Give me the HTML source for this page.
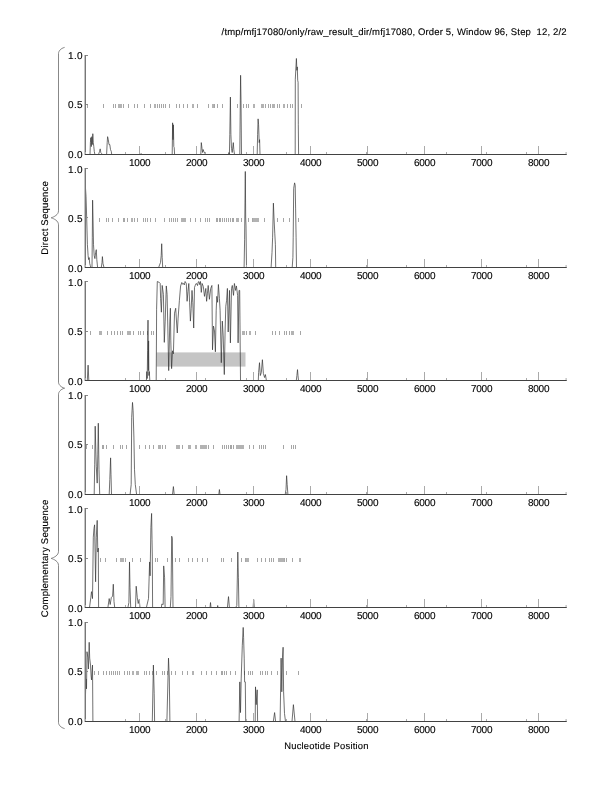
<!DOCTYPE html>
<html><head><meta charset="utf-8"><title>plot</title>
<style>html,body{margin:0;padding:0;background:#fff;}text{stroke:#000;stroke-width:0.12px;text-rendering:geometricPrecision;}body{width:612px;height:792px;overflow:hidden;}svg{display:block;}</style>
</head><body>
<svg width="612" height="792" viewBox="0 0 612 792" font-family="'Liberation Sans', Arial, sans-serif" fill="#000"><rect x="87" y="104" width="1" height="4" fill="#a6a6a6"/>
<rect x="103" y="104" width="1" height="4" fill="#a6a6a6"/>
<rect x="113" y="104" width="1" height="4" fill="#a6a6a6"/>
<rect x="115" y="104" width="1" height="4" fill="#a6a6a6"/>
<rect x="118" y="104" width="4" height="4" fill="#b3b3b3"/>
<rect x="123" y="104" width="1" height="4" fill="#a6a6a6"/>
<rect x="128" y="104" width="1" height="4" fill="#a6a6a6"/>
<rect x="134" y="104" width="1" height="4" fill="#a6a6a6"/>
<rect x="137" y="104" width="1" height="4" fill="#a6a6a6"/>
<rect x="144" y="104" width="1" height="4" fill="#a6a6a6"/>
<rect x="150" y="104" width="1" height="4" fill="#a6a6a6"/>
<rect x="154" y="104" width="2" height="4" fill="#b3b3b3"/>
<rect x="157" y="104" width="1" height="4" fill="#a6a6a6"/>
<rect x="159" y="104" width="1" height="4" fill="#a6a6a6"/>
<rect x="161" y="104" width="1" height="4" fill="#a6a6a6"/>
<rect x="163" y="104" width="1" height="4" fill="#a6a6a6"/>
<rect x="165" y="104" width="1" height="4" fill="#a6a6a6"/>
<rect x="169" y="104" width="1" height="4" fill="#a6a6a6"/>
<rect x="176" y="104" width="1" height="4" fill="#a6a6a6"/>
<rect x="179" y="104" width="1" height="4" fill="#a6a6a6"/>
<rect x="183" y="104" width="1" height="4" fill="#a6a6a6"/>
<rect x="187" y="104" width="1" height="4" fill="#a6a6a6"/>
<rect x="192" y="104" width="2" height="4" fill="#b3b3b3"/>
<rect x="197" y="104" width="1" height="4" fill="#a6a6a6"/>
<rect x="208" y="104" width="1" height="4" fill="#a6a6a6"/>
<rect x="212" y="104" width="2" height="4" fill="#b3b3b3"/>
<rect x="214" y="104" width="1" height="4" fill="#a6a6a6"/>
<rect x="217" y="104" width="1" height="4" fill="#a6a6a6"/>
<rect x="222" y="104" width="1" height="4" fill="#a6a6a6"/>
<rect x="237" y="104" width="1" height="4" fill="#a6a6a6"/>
<rect x="243" y="104" width="1" height="4" fill="#a6a6a6"/>
<rect x="246" y="104" width="1" height="4" fill="#a6a6a6"/>
<rect x="248" y="104" width="1" height="4" fill="#a6a6a6"/>
<rect x="253" y="104" width="2" height="4" fill="#b3b3b3"/>
<rect x="261" y="104" width="3" height="4" fill="#b3b3b3"/>
<rect x="265" y="104" width="1" height="4" fill="#a6a6a6"/>
<rect x="268" y="104" width="1" height="4" fill="#a6a6a6"/>
<rect x="270" y="104" width="1" height="4" fill="#a6a6a6"/>
<rect x="272" y="104" width="3" height="4" fill="#b3b3b3"/>
<rect x="277" y="104" width="1" height="4" fill="#a6a6a6"/>
<rect x="279" y="104" width="1" height="4" fill="#a6a6a6"/>
<rect x="283" y="104" width="2" height="4" fill="#b3b3b3"/>
<rect x="287" y="104" width="1" height="4" fill="#a6a6a6"/>
<rect x="290" y="104" width="1" height="4" fill="#a6a6a6"/>
<rect x="292" y="104" width="1" height="4" fill="#a6a6a6"/>
<rect x="301" y="104" width="1" height="4" fill="#a6a6a6"/>
<polyline points="85.00,154.50 90.00,154.50 90.40,142.62 90.80,137.67 91.30,146.58 91.80,136.68 92.30,144.60 92.80,133.71 93.30,142.62 93.80,146.58 94.30,151.53 94.90,154.50 98.50,154.50 99.50,151.53 100.20,148.86 100.80,152.52 101.60,153.51 102.20,154.50 106.60,154.50 107.20,142.62 107.60,136.68 108.30,139.65 109.00,144.60 109.80,144.60 110.50,149.55 111.30,151.53 111.70,154.50 140.80,154.50 141.10,153.51 141.50,154.50 172.20,154.50 172.60,122.82 173.00,139.65 173.40,124.80 173.80,146.58 174.20,147.57 174.60,154.50 200.80,154.50 201.30,142.62 202.00,148.56 202.60,152.52 203.20,149.55 203.80,151.53 205.70,154.50 228.50,154.50 228.90,152.52 229.40,154.50 229.80,134.70 230.40,97.08 230.90,134.70 231.50,148.56 232.20,152.52 233.30,142.62 233.80,149.55 234.50,154.50 239.80,154.50 240.30,100.05 240.60,75.30 241.00,100.05 241.50,154.50 257.20,154.50 257.60,134.70 258.10,118.86 258.60,124.80 259.20,142.62 259.60,139.65 260.00,154.50 295.20,154.50 295.30,79.26 296.40,58.47 296.90,70.35 297.30,66.89 297.70,80.25 298.10,82.23 298.30,124.80 298.60,154.50 566.60,154.50" fill="none" stroke="#333333" stroke-width="0.7" stroke-linejoin="round"/>
<line x1="84.50" y1="55.00" x2="84.50" y2="155.00" stroke="#c4c4c4" stroke-width="1.0"/>
<line x1="85.50" y1="55.00" x2="85.50" y2="155.00" stroke="#777777" stroke-width="1.0"/>
<line x1="85.00" y1="154.50" x2="566.60" y2="154.50" stroke="#424242" stroke-width="1.0"/>
<line x1="86.00" y1="55.50" x2="88.00" y2="55.50" stroke="#8a8a8a" stroke-width="1.0"/>
<line x1="86.00" y1="104.50" x2="88.00" y2="104.50" stroke="#8a8a8a" stroke-width="1.0"/>
<line x1="139.50" y1="154.00" x2="139.50" y2="146.00" stroke="#aaaaaa" stroke-width="1.0"/>
<line x1="196.50" y1="154.00" x2="196.50" y2="146.00" stroke="#aaaaaa" stroke-width="1.0"/>
<line x1="253.50" y1="154.00" x2="253.50" y2="146.00" stroke="#aaaaaa" stroke-width="1.0"/>
<line x1="310.50" y1="154.00" x2="310.50" y2="146.00" stroke="#aaaaaa" stroke-width="1.0"/>
<line x1="367.50" y1="154.00" x2="367.50" y2="146.00" stroke="#aaaaaa" stroke-width="1.0"/>
<line x1="424.50" y1="154.00" x2="424.50" y2="146.00" stroke="#aaaaaa" stroke-width="1.0"/>
<line x1="481.50" y1="154.00" x2="481.50" y2="146.00" stroke="#aaaaaa" stroke-width="1.0"/>
<line x1="538.50" y1="154.00" x2="538.50" y2="146.00" stroke="#aaaaaa" stroke-width="1.0"/>
<line x1="85.50" y1="154.00" x2="85.50" y2="152.00" stroke="#aaaaaa" stroke-width="1.0"/>
<line x1="125.50" y1="154.00" x2="125.50" y2="152.00" stroke="#aaaaaa" stroke-width="1.0"/>
<line x1="165.50" y1="154.00" x2="165.50" y2="152.00" stroke="#aaaaaa" stroke-width="1.0"/>
<line x1="205.50" y1="154.00" x2="205.50" y2="152.00" stroke="#aaaaaa" stroke-width="1.0"/>
<line x1="246.50" y1="154.00" x2="246.50" y2="152.00" stroke="#aaaaaa" stroke-width="1.0"/>
<line x1="286.50" y1="154.00" x2="286.50" y2="152.00" stroke="#aaaaaa" stroke-width="1.0"/>
<line x1="326.50" y1="154.00" x2="326.50" y2="152.00" stroke="#aaaaaa" stroke-width="1.0"/>
<line x1="366.50" y1="154.00" x2="366.50" y2="152.00" stroke="#aaaaaa" stroke-width="1.0"/>
<line x1="406.50" y1="154.00" x2="406.50" y2="152.00" stroke="#aaaaaa" stroke-width="1.0"/>
<line x1="446.50" y1="154.00" x2="446.50" y2="152.00" stroke="#aaaaaa" stroke-width="1.0"/>
<line x1="486.50" y1="154.00" x2="486.50" y2="152.00" stroke="#aaaaaa" stroke-width="1.0"/>
<line x1="526.50" y1="154.00" x2="526.50" y2="152.00" stroke="#aaaaaa" stroke-width="1.0"/>
<line x1="566.10" y1="154.00" x2="566.10" y2="152.00" stroke="#aaaaaa" stroke-width="1.0"/>
<text x="82.90" y="58.90" font-size="10" text-anchor="end" letter-spacing="0.3">1.0</text>
<text x="82.90" y="108.40" font-size="10" text-anchor="end" letter-spacing="0.3">0.5</text>
<text x="82.90" y="157.90" font-size="10" text-anchor="end" letter-spacing="0.3">0.0</text>
<text x="139.70" y="165.80" font-size="10" text-anchor="middle" letter-spacing="-0.25">1000</text>
<text x="196.69" y="165.80" font-size="10" text-anchor="middle" letter-spacing="-0.25">2000</text>
<text x="253.67" y="165.80" font-size="10" text-anchor="middle" letter-spacing="-0.25">3000</text>
<text x="310.66" y="165.80" font-size="10" text-anchor="middle" letter-spacing="-0.25">4000</text>
<text x="367.64" y="165.80" font-size="10" text-anchor="middle" letter-spacing="-0.25">5000</text>
<text x="424.63" y="165.80" font-size="10" text-anchor="middle" letter-spacing="-0.25">6000</text>
<text x="481.61" y="165.80" font-size="10" text-anchor="middle" letter-spacing="-0.25">7000</text>
<text x="538.60" y="165.80" font-size="10" text-anchor="middle" letter-spacing="-0.25">8000</text>
<rect x="99" y="218" width="1" height="4" fill="#a6a6a6"/>
<rect x="106" y="218" width="1" height="4" fill="#a6a6a6"/>
<rect x="108" y="218" width="1" height="4" fill="#a6a6a6"/>
<rect x="112" y="218" width="1" height="4" fill="#a6a6a6"/>
<rect x="118" y="218" width="1" height="4" fill="#a6a6a6"/>
<rect x="123" y="218" width="1" height="4" fill="#a6a6a6"/>
<rect x="124" y="218" width="1" height="4" fill="#a6a6a6"/>
<rect x="127" y="218" width="1" height="4" fill="#a6a6a6"/>
<rect x="131" y="218" width="2" height="4" fill="#b3b3b3"/>
<rect x="134" y="218" width="1" height="4" fill="#a6a6a6"/>
<rect x="137" y="218" width="1" height="4" fill="#a6a6a6"/>
<rect x="143" y="218" width="1" height="4" fill="#a6a6a6"/>
<rect x="145" y="218" width="1" height="4" fill="#a6a6a6"/>
<rect x="147" y="218" width="1" height="4" fill="#a6a6a6"/>
<rect x="150" y="218" width="1" height="4" fill="#a6a6a6"/>
<rect x="155" y="218" width="1" height="4" fill="#a6a6a6"/>
<rect x="164" y="218" width="1" height="4" fill="#a6a6a6"/>
<rect x="169" y="218" width="1" height="4" fill="#a6a6a6"/>
<rect x="171" y="218" width="1" height="4" fill="#a6a6a6"/>
<rect x="173" y="218" width="1" height="4" fill="#a6a6a6"/>
<rect x="175" y="218" width="1" height="4" fill="#a6a6a6"/>
<rect x="177" y="218" width="1" height="4" fill="#a6a6a6"/>
<rect x="181" y="218" width="5" height="4" fill="#b3b3b3"/>
<rect x="190" y="218" width="1" height="4" fill="#a6a6a6"/>
<rect x="195" y="218" width="1" height="4" fill="#a6a6a6"/>
<rect x="200" y="218" width="1" height="4" fill="#a6a6a6"/>
<rect x="205" y="218" width="1" height="4" fill="#a6a6a6"/>
<rect x="207" y="218" width="1" height="4" fill="#a6a6a6"/>
<rect x="209" y="218" width="1" height="4" fill="#a6a6a6"/>
<rect x="216" y="218" width="1" height="4" fill="#a6a6a6"/>
<rect x="217" y="218" width="1" height="4" fill="#a6a6a6"/>
<rect x="219" y="218" width="1" height="4" fill="#a6a6a6"/>
<rect x="220" y="218" width="1" height="4" fill="#a6a6a6"/>
<rect x="222" y="218" width="1" height="4" fill="#a6a6a6"/>
<rect x="224" y="218" width="1" height="4" fill="#a6a6a6"/>
<rect x="226" y="218" width="1" height="4" fill="#a6a6a6"/>
<rect x="228" y="218" width="1" height="4" fill="#a6a6a6"/>
<rect x="230" y="218" width="1" height="4" fill="#a6a6a6"/>
<rect x="232" y="218" width="1" height="4" fill="#a6a6a6"/>
<rect x="233" y="218" width="1" height="4" fill="#a6a6a6"/>
<rect x="236" y="218" width="3" height="4" fill="#b3b3b3"/>
<rect x="241" y="218" width="1" height="4" fill="#a6a6a6"/>
<rect x="248" y="218" width="1" height="4" fill="#a6a6a6"/>
<rect x="252" y="218" width="1" height="4" fill="#a6a6a6"/>
<rect x="253" y="218" width="6" height="4" fill="#b3b3b3"/>
<rect x="264" y="218" width="1" height="4" fill="#a6a6a6"/>
<rect x="277" y="218" width="1" height="4" fill="#a6a6a6"/>
<rect x="283" y="218" width="1" height="4" fill="#a6a6a6"/>
<rect x="289" y="218" width="1" height="4" fill="#a6a6a6"/>
<rect x="298" y="218" width="1" height="4" fill="#a6a6a6"/>
<polyline points="85.50,188.30 86.00,196.22 86.70,218.00 87.40,244.73 88.10,255.62 88.60,259.58 89.20,257.60 89.70,263.54 90.30,265.52 90.80,267.50 92.00,267.50 92.30,237.80 92.60,200.18 93.00,218.00 93.50,244.73 94.20,255.62 94.90,258.59 95.60,252.65 96.30,249.68 96.80,259.58 97.60,267.50 101.30,267.50 102.00,262.55 102.40,256.61 103.00,263.54 104.00,267.50 158.60,267.50 160.50,262.55 161.20,255.62 161.70,243.74 162.20,257.60 162.70,267.50 244.10,267.50 244.60,239.78 245.30,171.47 245.70,218.00 246.00,225.92 246.50,267.50 271.10,267.50 272.00,252.65 272.60,237.80 273.40,203.15 274.00,218.00 274.80,233.84 275.40,244.73 275.70,267.50 292.20,267.50 292.90,257.60 293.20,237.80 293.70,188.30 294.60,182.86 295.20,185.33 295.60,208.10 296.10,237.80 296.50,267.50 566.60,267.50" fill="none" stroke="#333333" stroke-width="0.7" stroke-linejoin="round"/>
<line x1="84.50" y1="168.00" x2="84.50" y2="268.00" stroke="#c4c4c4" stroke-width="1.0"/>
<line x1="85.50" y1="168.00" x2="85.50" y2="268.00" stroke="#777777" stroke-width="1.0"/>
<line x1="85.00" y1="267.50" x2="566.60" y2="267.50" stroke="#424242" stroke-width="1.0"/>
<line x1="86.00" y1="168.50" x2="88.00" y2="168.50" stroke="#8a8a8a" stroke-width="1.0"/>
<line x1="86.00" y1="217.50" x2="88.00" y2="217.50" stroke="#8a8a8a" stroke-width="1.0"/>
<line x1="139.50" y1="267.00" x2="139.50" y2="259.00" stroke="#aaaaaa" stroke-width="1.0"/>
<line x1="196.50" y1="267.00" x2="196.50" y2="259.00" stroke="#aaaaaa" stroke-width="1.0"/>
<line x1="253.50" y1="267.00" x2="253.50" y2="259.00" stroke="#aaaaaa" stroke-width="1.0"/>
<line x1="310.50" y1="267.00" x2="310.50" y2="259.00" stroke="#aaaaaa" stroke-width="1.0"/>
<line x1="367.50" y1="267.00" x2="367.50" y2="259.00" stroke="#aaaaaa" stroke-width="1.0"/>
<line x1="424.50" y1="267.00" x2="424.50" y2="259.00" stroke="#aaaaaa" stroke-width="1.0"/>
<line x1="481.50" y1="267.00" x2="481.50" y2="259.00" stroke="#aaaaaa" stroke-width="1.0"/>
<line x1="538.50" y1="267.00" x2="538.50" y2="259.00" stroke="#aaaaaa" stroke-width="1.0"/>
<line x1="85.50" y1="267.00" x2="85.50" y2="265.00" stroke="#aaaaaa" stroke-width="1.0"/>
<line x1="125.50" y1="267.00" x2="125.50" y2="265.00" stroke="#aaaaaa" stroke-width="1.0"/>
<line x1="165.50" y1="267.00" x2="165.50" y2="265.00" stroke="#aaaaaa" stroke-width="1.0"/>
<line x1="205.50" y1="267.00" x2="205.50" y2="265.00" stroke="#aaaaaa" stroke-width="1.0"/>
<line x1="246.50" y1="267.00" x2="246.50" y2="265.00" stroke="#aaaaaa" stroke-width="1.0"/>
<line x1="286.50" y1="267.00" x2="286.50" y2="265.00" stroke="#aaaaaa" stroke-width="1.0"/>
<line x1="326.50" y1="267.00" x2="326.50" y2="265.00" stroke="#aaaaaa" stroke-width="1.0"/>
<line x1="366.50" y1="267.00" x2="366.50" y2="265.00" stroke="#aaaaaa" stroke-width="1.0"/>
<line x1="406.50" y1="267.00" x2="406.50" y2="265.00" stroke="#aaaaaa" stroke-width="1.0"/>
<line x1="446.50" y1="267.00" x2="446.50" y2="265.00" stroke="#aaaaaa" stroke-width="1.0"/>
<line x1="486.50" y1="267.00" x2="486.50" y2="265.00" stroke="#aaaaaa" stroke-width="1.0"/>
<line x1="526.50" y1="267.00" x2="526.50" y2="265.00" stroke="#aaaaaa" stroke-width="1.0"/>
<line x1="566.10" y1="267.00" x2="566.10" y2="265.00" stroke="#aaaaaa" stroke-width="1.0"/>
<text x="82.90" y="172.80" font-size="10" text-anchor="end" letter-spacing="0.3">1.0</text>
<text x="82.90" y="222.30" font-size="10" text-anchor="end" letter-spacing="0.3">0.5</text>
<text x="82.90" y="271.80" font-size="10" text-anchor="end" letter-spacing="0.3">0.0</text>
<text x="139.70" y="278.80" font-size="10" text-anchor="middle" letter-spacing="-0.25">1000</text>
<text x="196.69" y="278.80" font-size="10" text-anchor="middle" letter-spacing="-0.25">2000</text>
<text x="253.67" y="278.80" font-size="10" text-anchor="middle" letter-spacing="-0.25">3000</text>
<text x="310.66" y="278.80" font-size="10" text-anchor="middle" letter-spacing="-0.25">4000</text>
<text x="367.64" y="278.80" font-size="10" text-anchor="middle" letter-spacing="-0.25">5000</text>
<text x="424.63" y="278.80" font-size="10" text-anchor="middle" letter-spacing="-0.25">6000</text>
<text x="481.61" y="278.80" font-size="10" text-anchor="middle" letter-spacing="-0.25">7000</text>
<text x="538.60" y="278.80" font-size="10" text-anchor="middle" letter-spacing="-0.25">8000</text>
<rect x="156.5" y="352.4" width="89" height="14.2" fill="#c5c5c5"/>
<rect x="90" y="331" width="1" height="4" fill="#a6a6a6"/>
<rect x="99" y="331" width="3" height="4" fill="#b3b3b3"/>
<rect x="107" y="331" width="1" height="4" fill="#a6a6a6"/>
<rect x="111" y="331" width="1" height="4" fill="#a6a6a6"/>
<rect x="114" y="331" width="1" height="4" fill="#a6a6a6"/>
<rect x="117" y="331" width="1" height="4" fill="#a6a6a6"/>
<rect x="120" y="331" width="1" height="4" fill="#a6a6a6"/>
<rect x="122" y="331" width="1" height="4" fill="#a6a6a6"/>
<rect x="127" y="331" width="4" height="4" fill="#b3b3b3"/>
<rect x="133" y="331" width="1" height="4" fill="#a6a6a6"/>
<rect x="138" y="331" width="1" height="4" fill="#a6a6a6"/>
<rect x="140" y="331" width="1" height="4" fill="#a6a6a6"/>
<rect x="143" y="331" width="1" height="4" fill="#a6a6a6"/>
<rect x="147" y="331" width="1" height="4" fill="#a6a6a6"/>
<rect x="151" y="331" width="1" height="4" fill="#a6a6a6"/>
<rect x="153" y="331" width="1" height="4" fill="#a6a6a6"/>
<rect x="242" y="331" width="3" height="4" fill="#b3b3b3"/>
<rect x="246" y="331" width="1" height="4" fill="#a6a6a6"/>
<rect x="249" y="331" width="2" height="4" fill="#b3b3b3"/>
<rect x="255" y="331" width="1" height="4" fill="#a6a6a6"/>
<rect x="272" y="331" width="1" height="4" fill="#a6a6a6"/>
<rect x="275" y="331" width="1" height="4" fill="#a6a6a6"/>
<rect x="279" y="331" width="1" height="4" fill="#a6a6a6"/>
<rect x="284" y="331" width="1" height="4" fill="#a6a6a6"/>
<rect x="286" y="331" width="1" height="4" fill="#a6a6a6"/>
<rect x="289" y="331" width="1" height="4" fill="#a6a6a6"/>
<rect x="291" y="331" width="3" height="4" fill="#b3b3b3"/>
<rect x="300" y="331" width="1" height="4" fill="#a6a6a6"/>
<polyline points="85.00,380.50 87.30,380.50 88.10,365.15 88.80,380.50 146.40,380.50 146.80,371.59 147.20,378.52 147.60,350.80 148.00,320.11 148.30,370.60 148.60,340.90 148.90,375.55 149.30,371.59 149.80,380.50 156.20,380.50 156.50,331.00 156.60,309.22 157.30,281.50 159.40,282.49 160.20,283.48 160.60,298.33 161.40,312.19 162.20,285.46 163.40,294.37 164.30,342.38 165.20,321.10 166.30,285.95 167.10,294.37 167.90,331.00 168.70,370.60 169.80,321.10 170.40,308.23 170.80,340.90 171.60,368.62 172.50,350.80 173.40,353.77 174.50,313.18 175.70,308.23 176.90,328.03 177.30,332.98 178.10,318.13 179.40,300.31 180.60,285.95 181.80,282.49 182.65,284.21 183.50,283.48 184.30,284.91 185.10,281.50 186.30,283.48 187.10,301.30 187.95,291.34 188.80,283.48 189.60,302.29 190.40,321.10 191.20,308.72 192.00,290.41 192.80,302.29 193.70,328.03 194.50,287.44 195.30,285.21 196.10,283.48 196.82,283.92 197.55,285.55 198.28,281.94 199.00,281.50 199.75,284.71 200.50,281.50 201.30,292.39 202.10,283.48 203.30,286.45 204.50,296.35 205.80,288.43 206.60,301.30 207.40,293.84 208.20,285.46 209.40,299.32 210.70,288.43 211.90,285.46 212.50,349.81 213.50,326.05 214.50,331.00 215.40,351.79 216.20,310.21 216.80,296.35 217.60,302.29 218.40,284.47 219.40,298.33 220.10,310.21 221.30,362.68 222.30,321.10 223.20,335.95 224.30,374.56 225.10,331.00 225.80,306.25 226.60,300.32 227.40,288.43 228.20,331.99 229.50,290.41 230.40,342.88 231.50,288.43 232.30,285.46 233.50,295.36 234.40,283.48 235.60,290.41 236.40,285.95 237.60,295.36 238.10,342.88 239.00,290.41 239.70,290.41 240.50,380.50 258.30,380.50 258.60,372.58 259.50,362.68 260.30,375.55 261.30,372.58 262.40,359.71 263.40,373.57 264.60,377.53 265.40,374.56 266.40,380.50 296.30,380.50 296.90,375.55 297.50,369.61 298.00,375.55 298.50,380.50 566.60,380.50" fill="none" stroke="#333333" stroke-width="0.7" stroke-linejoin="round"/>
<line x1="84.50" y1="281.00" x2="84.50" y2="381.00" stroke="#c4c4c4" stroke-width="1.0"/>
<line x1="85.50" y1="281.00" x2="85.50" y2="381.00" stroke="#777777" stroke-width="1.0"/>
<line x1="85.00" y1="380.50" x2="566.60" y2="380.50" stroke="#424242" stroke-width="1.0"/>
<line x1="86.00" y1="281.50" x2="88.00" y2="281.50" stroke="#8a8a8a" stroke-width="1.0"/>
<line x1="86.00" y1="331.50" x2="88.00" y2="331.50" stroke="#8a8a8a" stroke-width="1.0"/>
<line x1="139.50" y1="380.00" x2="139.50" y2="372.00" stroke="#aaaaaa" stroke-width="1.0"/>
<line x1="196.50" y1="380.00" x2="196.50" y2="372.00" stroke="#aaaaaa" stroke-width="1.0"/>
<line x1="253.50" y1="380.00" x2="253.50" y2="372.00" stroke="#aaaaaa" stroke-width="1.0"/>
<line x1="310.50" y1="380.00" x2="310.50" y2="372.00" stroke="#aaaaaa" stroke-width="1.0"/>
<line x1="367.50" y1="380.00" x2="367.50" y2="372.00" stroke="#aaaaaa" stroke-width="1.0"/>
<line x1="424.50" y1="380.00" x2="424.50" y2="372.00" stroke="#aaaaaa" stroke-width="1.0"/>
<line x1="481.50" y1="380.00" x2="481.50" y2="372.00" stroke="#aaaaaa" stroke-width="1.0"/>
<line x1="538.50" y1="380.00" x2="538.50" y2="372.00" stroke="#aaaaaa" stroke-width="1.0"/>
<line x1="85.50" y1="380.00" x2="85.50" y2="378.00" stroke="#aaaaaa" stroke-width="1.0"/>
<line x1="125.50" y1="380.00" x2="125.50" y2="378.00" stroke="#aaaaaa" stroke-width="1.0"/>
<line x1="165.50" y1="380.00" x2="165.50" y2="378.00" stroke="#aaaaaa" stroke-width="1.0"/>
<line x1="205.50" y1="380.00" x2="205.50" y2="378.00" stroke="#aaaaaa" stroke-width="1.0"/>
<line x1="246.50" y1="380.00" x2="246.50" y2="378.00" stroke="#aaaaaa" stroke-width="1.0"/>
<line x1="286.50" y1="380.00" x2="286.50" y2="378.00" stroke="#aaaaaa" stroke-width="1.0"/>
<line x1="326.50" y1="380.00" x2="326.50" y2="378.00" stroke="#aaaaaa" stroke-width="1.0"/>
<line x1="366.50" y1="380.00" x2="366.50" y2="378.00" stroke="#aaaaaa" stroke-width="1.0"/>
<line x1="406.50" y1="380.00" x2="406.50" y2="378.00" stroke="#aaaaaa" stroke-width="1.0"/>
<line x1="446.50" y1="380.00" x2="446.50" y2="378.00" stroke="#aaaaaa" stroke-width="1.0"/>
<line x1="486.50" y1="380.00" x2="486.50" y2="378.00" stroke="#aaaaaa" stroke-width="1.0"/>
<line x1="526.50" y1="380.00" x2="526.50" y2="378.00" stroke="#aaaaaa" stroke-width="1.0"/>
<line x1="566.10" y1="380.00" x2="566.10" y2="378.00" stroke="#aaaaaa" stroke-width="1.0"/>
<text x="82.90" y="285.80" font-size="10" text-anchor="end" letter-spacing="0.3">1.0</text>
<text x="82.90" y="335.30" font-size="10" text-anchor="end" letter-spacing="0.3">0.5</text>
<text x="82.90" y="384.80" font-size="10" text-anchor="end" letter-spacing="0.3">0.0</text>
<text x="139.70" y="391.80" font-size="10" text-anchor="middle" letter-spacing="-0.25">1000</text>
<text x="196.69" y="391.80" font-size="10" text-anchor="middle" letter-spacing="-0.25">2000</text>
<text x="253.67" y="391.80" font-size="10" text-anchor="middle" letter-spacing="-0.25">3000</text>
<text x="310.66" y="391.80" font-size="10" text-anchor="middle" letter-spacing="-0.25">4000</text>
<text x="367.64" y="391.80" font-size="10" text-anchor="middle" letter-spacing="-0.25">5000</text>
<text x="424.63" y="391.80" font-size="10" text-anchor="middle" letter-spacing="-0.25">6000</text>
<text x="481.61" y="391.80" font-size="10" text-anchor="middle" letter-spacing="-0.25">7000</text>
<text x="538.60" y="391.80" font-size="10" text-anchor="middle" letter-spacing="-0.25">8000</text>
<rect x="86" y="445" width="1" height="4" fill="#a6a6a6"/>
<rect x="92" y="445" width="1" height="4" fill="#a6a6a6"/>
<rect x="102" y="445" width="1" height="4" fill="#a6a6a6"/>
<rect x="103" y="445" width="1" height="4" fill="#a6a6a6"/>
<rect x="106" y="445" width="1" height="4" fill="#a6a6a6"/>
<rect x="113" y="445" width="1" height="4" fill="#a6a6a6"/>
<rect x="120" y="445" width="1" height="4" fill="#a6a6a6"/>
<rect x="122" y="445" width="1" height="4" fill="#a6a6a6"/>
<rect x="126" y="445" width="1" height="4" fill="#a6a6a6"/>
<rect x="139" y="445" width="1" height="4" fill="#a6a6a6"/>
<rect x="145" y="445" width="1" height="4" fill="#a6a6a6"/>
<rect x="149" y="445" width="1" height="4" fill="#a6a6a6"/>
<rect x="153" y="445" width="1" height="4" fill="#a6a6a6"/>
<rect x="158" y="445" width="3" height="4" fill="#b3b3b3"/>
<rect x="162" y="445" width="1" height="4" fill="#a6a6a6"/>
<rect x="165" y="445" width="1" height="4" fill="#a6a6a6"/>
<rect x="176" y="445" width="4" height="4" fill="#b3b3b3"/>
<rect x="182" y="445" width="1" height="4" fill="#a6a6a6"/>
<rect x="188" y="445" width="3" height="4" fill="#b3b3b3"/>
<rect x="195" y="445" width="2" height="4" fill="#b3b3b3"/>
<rect x="200" y="445" width="7" height="4" fill="#b3b3b3"/>
<rect x="208" y="445" width="1" height="4" fill="#a6a6a6"/>
<rect x="213" y="445" width="1" height="4" fill="#a6a6a6"/>
<rect x="222" y="445" width="1" height="4" fill="#a6a6a6"/>
<rect x="224" y="445" width="1" height="4" fill="#a6a6a6"/>
<rect x="226" y="445" width="1" height="4" fill="#a6a6a6"/>
<rect x="228" y="445" width="1" height="4" fill="#a6a6a6"/>
<rect x="230" y="445" width="1" height="4" fill="#a6a6a6"/>
<rect x="231" y="445" width="1" height="4" fill="#a6a6a6"/>
<rect x="233" y="445" width="1" height="4" fill="#a6a6a6"/>
<rect x="236" y="445" width="8" height="4" fill="#b3b3b3"/>
<rect x="249" y="445" width="1" height="4" fill="#a6a6a6"/>
<rect x="253" y="445" width="1" height="4" fill="#a6a6a6"/>
<rect x="259" y="445" width="1" height="4" fill="#a6a6a6"/>
<rect x="261" y="445" width="1" height="4" fill="#a6a6a6"/>
<rect x="263" y="445" width="1" height="4" fill="#a6a6a6"/>
<rect x="265" y="445" width="1" height="4" fill="#a6a6a6"/>
<rect x="283" y="445" width="1" height="4" fill="#a6a6a6"/>
<rect x="291" y="445" width="1" height="4" fill="#a6a6a6"/>
<rect x="293" y="445" width="1" height="4" fill="#a6a6a6"/>
<rect x="295" y="445" width="1" height="4" fill="#a6a6a6"/>
<polyline points="85.00,494.50 94.20,494.50 94.70,464.80 95.20,426.19 95.80,449.95 96.30,466.78 97.20,483.12 97.80,454.90 98.30,423.22 98.70,449.95 99.00,469.75 99.70,494.50 109.20,494.50 109.80,479.65 110.60,457.87 111.00,474.70 111.50,494.50 130.10,494.50 131.20,484.60 131.70,417.28 132.50,402.43 133.10,410.35 133.90,437.08 134.50,469.75 135.30,484.60 136.60,494.50 172.50,494.50 173.40,486.58 174.20,494.50 218.80,494.50 219.40,489.55 220.00,494.50 285.20,494.50 286.00,489.55 286.60,475.69 287.20,484.60 287.90,494.50 566.60,494.50" fill="none" stroke="#333333" stroke-width="0.7" stroke-linejoin="round"/>
<line x1="84.50" y1="395.00" x2="84.50" y2="495.00" stroke="#c4c4c4" stroke-width="1.0"/>
<line x1="85.50" y1="395.00" x2="85.50" y2="495.00" stroke="#777777" stroke-width="1.0"/>
<line x1="85.00" y1="494.50" x2="566.60" y2="494.50" stroke="#424242" stroke-width="1.0"/>
<line x1="86.00" y1="395.50" x2="88.00" y2="395.50" stroke="#8a8a8a" stroke-width="1.0"/>
<line x1="86.00" y1="444.50" x2="88.00" y2="444.50" stroke="#8a8a8a" stroke-width="1.0"/>
<line x1="139.50" y1="494.00" x2="139.50" y2="486.00" stroke="#aaaaaa" stroke-width="1.0"/>
<line x1="196.50" y1="494.00" x2="196.50" y2="486.00" stroke="#aaaaaa" stroke-width="1.0"/>
<line x1="253.50" y1="494.00" x2="253.50" y2="486.00" stroke="#aaaaaa" stroke-width="1.0"/>
<line x1="310.50" y1="494.00" x2="310.50" y2="486.00" stroke="#aaaaaa" stroke-width="1.0"/>
<line x1="367.50" y1="494.00" x2="367.50" y2="486.00" stroke="#aaaaaa" stroke-width="1.0"/>
<line x1="424.50" y1="494.00" x2="424.50" y2="486.00" stroke="#aaaaaa" stroke-width="1.0"/>
<line x1="481.50" y1="494.00" x2="481.50" y2="486.00" stroke="#aaaaaa" stroke-width="1.0"/>
<line x1="538.50" y1="494.00" x2="538.50" y2="486.00" stroke="#aaaaaa" stroke-width="1.0"/>
<line x1="85.50" y1="494.00" x2="85.50" y2="492.00" stroke="#aaaaaa" stroke-width="1.0"/>
<line x1="125.50" y1="494.00" x2="125.50" y2="492.00" stroke="#aaaaaa" stroke-width="1.0"/>
<line x1="165.50" y1="494.00" x2="165.50" y2="492.00" stroke="#aaaaaa" stroke-width="1.0"/>
<line x1="205.50" y1="494.00" x2="205.50" y2="492.00" stroke="#aaaaaa" stroke-width="1.0"/>
<line x1="246.50" y1="494.00" x2="246.50" y2="492.00" stroke="#aaaaaa" stroke-width="1.0"/>
<line x1="286.50" y1="494.00" x2="286.50" y2="492.00" stroke="#aaaaaa" stroke-width="1.0"/>
<line x1="326.50" y1="494.00" x2="326.50" y2="492.00" stroke="#aaaaaa" stroke-width="1.0"/>
<line x1="366.50" y1="494.00" x2="366.50" y2="492.00" stroke="#aaaaaa" stroke-width="1.0"/>
<line x1="406.50" y1="494.00" x2="406.50" y2="492.00" stroke="#aaaaaa" stroke-width="1.0"/>
<line x1="446.50" y1="494.00" x2="446.50" y2="492.00" stroke="#aaaaaa" stroke-width="1.0"/>
<line x1="486.50" y1="494.00" x2="486.50" y2="492.00" stroke="#aaaaaa" stroke-width="1.0"/>
<line x1="526.50" y1="494.00" x2="526.50" y2="492.00" stroke="#aaaaaa" stroke-width="1.0"/>
<line x1="566.10" y1="494.00" x2="566.10" y2="492.00" stroke="#aaaaaa" stroke-width="1.0"/>
<text x="82.90" y="398.80" font-size="10" text-anchor="end" letter-spacing="0.3">1.0</text>
<text x="82.90" y="448.30" font-size="10" text-anchor="end" letter-spacing="0.3">0.5</text>
<text x="82.90" y="497.80" font-size="10" text-anchor="end" letter-spacing="0.3">0.0</text>
<text x="139.70" y="505.80" font-size="10" text-anchor="middle" letter-spacing="-0.25">1000</text>
<text x="196.69" y="505.80" font-size="10" text-anchor="middle" letter-spacing="-0.25">2000</text>
<text x="253.67" y="505.80" font-size="10" text-anchor="middle" letter-spacing="-0.25">3000</text>
<text x="310.66" y="505.80" font-size="10" text-anchor="middle" letter-spacing="-0.25">4000</text>
<text x="367.64" y="505.80" font-size="10" text-anchor="middle" letter-spacing="-0.25">5000</text>
<text x="424.63" y="505.80" font-size="10" text-anchor="middle" letter-spacing="-0.25">6000</text>
<text x="481.61" y="505.80" font-size="10" text-anchor="middle" letter-spacing="-0.25">7000</text>
<text x="538.60" y="505.80" font-size="10" text-anchor="middle" letter-spacing="-0.25">8000</text>
<rect x="100" y="558" width="1" height="4" fill="#a6a6a6"/>
<rect x="105" y="558" width="1" height="4" fill="#a6a6a6"/>
<rect x="116" y="558" width="1" height="4" fill="#a6a6a6"/>
<rect x="120" y="558" width="4" height="4" fill="#b3b3b3"/>
<rect x="125" y="558" width="1" height="4" fill="#a6a6a6"/>
<rect x="132" y="558" width="1" height="4" fill="#a6a6a6"/>
<rect x="140" y="558" width="1" height="4" fill="#a6a6a6"/>
<rect x="155" y="558" width="1" height="4" fill="#a6a6a6"/>
<rect x="157" y="558" width="1" height="4" fill="#a6a6a6"/>
<rect x="167" y="558" width="1" height="4" fill="#a6a6a6"/>
<rect x="175" y="558" width="1" height="4" fill="#a6a6a6"/>
<rect x="179" y="558" width="1" height="4" fill="#a6a6a6"/>
<rect x="188" y="558" width="1" height="4" fill="#a6a6a6"/>
<rect x="192" y="558" width="1" height="4" fill="#a6a6a6"/>
<rect x="197" y="558" width="1" height="4" fill="#a6a6a6"/>
<rect x="202" y="558" width="1" height="4" fill="#a6a6a6"/>
<rect x="207" y="558" width="1" height="4" fill="#a6a6a6"/>
<rect x="221" y="558" width="1" height="4" fill="#a6a6a6"/>
<rect x="223" y="558" width="1" height="4" fill="#a6a6a6"/>
<rect x="231" y="558" width="1" height="4" fill="#a6a6a6"/>
<rect x="241" y="558" width="1" height="4" fill="#a6a6a6"/>
<rect x="245" y="558" width="1" height="4" fill="#a6a6a6"/>
<rect x="246" y="558" width="3" height="4" fill="#b3b3b3"/>
<rect x="257" y="558" width="1" height="4" fill="#a6a6a6"/>
<rect x="261" y="558" width="1" height="4" fill="#a6a6a6"/>
<rect x="265" y="558" width="1" height="4" fill="#a6a6a6"/>
<rect x="269" y="558" width="1" height="4" fill="#a6a6a6"/>
<rect x="271" y="558" width="1" height="4" fill="#a6a6a6"/>
<rect x="273" y="558" width="1" height="4" fill="#a6a6a6"/>
<rect x="278" y="558" width="6" height="4" fill="#b3b3b3"/>
<rect x="284" y="558" width="1" height="4" fill="#a6a6a6"/>
<rect x="286" y="558" width="1" height="4" fill="#a6a6a6"/>
<rect x="292" y="558" width="1" height="4" fill="#a6a6a6"/>
<rect x="299" y="558" width="2" height="4" fill="#b3b3b3"/>
<polyline points="85.00,607.50 89.50,607.50 90.80,597.60 91.50,591.66 92.50,598.59 93.30,537.21 94.00,528.30 94.60,524.84 95.20,558.00 95.60,581.76 96.30,537.21 97.20,520.38 97.80,552.06 98.30,548.10 98.60,607.50 107.90,607.50 109.20,598.59 110.20,604.53 111.30,597.60 112.60,596.12 113.30,584.24 114.00,601.56 114.70,607.50 127.90,607.50 128.90,602.55 129.50,561.96 130.00,587.70 130.70,607.50 135.50,607.50 136.20,586.22 137.30,597.60 138.20,603.54 139.20,599.58 140.00,607.50 146.40,607.50 148.50,598.59 149.60,561.96 150.10,575.82 150.90,527.31 151.60,513.45 152.00,539.19 152.30,556.02 152.60,607.50 161.40,607.50 161.80,604.03 163.20,604.53 163.70,565.92 164.60,577.80 165.10,607.50 170.30,607.50 171.00,596.61 171.70,536.22 172.30,538.20 173.00,607.50 210.00,607.50 210.50,602.55 211.00,607.50 217.40,607.50 217.70,605.52 218.00,607.50 227.40,607.50 228.50,596.61 229.40,607.50 235.70,607.50 236.80,605.52 237.50,567.90 237.80,552.06 238.40,577.80 238.90,607.50 253.10,607.50 253.70,599.58 254.30,607.50 566.60,607.50" fill="none" stroke="#333333" stroke-width="0.7" stroke-linejoin="round"/>
<line x1="84.50" y1="508.00" x2="84.50" y2="608.00" stroke="#c4c4c4" stroke-width="1.0"/>
<line x1="85.50" y1="508.00" x2="85.50" y2="608.00" stroke="#777777" stroke-width="1.0"/>
<line x1="85.00" y1="607.50" x2="566.60" y2="607.50" stroke="#424242" stroke-width="1.0"/>
<line x1="86.00" y1="508.50" x2="88.00" y2="508.50" stroke="#8a8a8a" stroke-width="1.0"/>
<line x1="86.00" y1="558.50" x2="88.00" y2="558.50" stroke="#8a8a8a" stroke-width="1.0"/>
<line x1="139.50" y1="607.00" x2="139.50" y2="599.00" stroke="#aaaaaa" stroke-width="1.0"/>
<line x1="196.50" y1="607.00" x2="196.50" y2="599.00" stroke="#aaaaaa" stroke-width="1.0"/>
<line x1="253.50" y1="607.00" x2="253.50" y2="599.00" stroke="#aaaaaa" stroke-width="1.0"/>
<line x1="310.50" y1="607.00" x2="310.50" y2="599.00" stroke="#aaaaaa" stroke-width="1.0"/>
<line x1="367.50" y1="607.00" x2="367.50" y2="599.00" stroke="#aaaaaa" stroke-width="1.0"/>
<line x1="424.50" y1="607.00" x2="424.50" y2="599.00" stroke="#aaaaaa" stroke-width="1.0"/>
<line x1="481.50" y1="607.00" x2="481.50" y2="599.00" stroke="#aaaaaa" stroke-width="1.0"/>
<line x1="538.50" y1="607.00" x2="538.50" y2="599.00" stroke="#aaaaaa" stroke-width="1.0"/>
<line x1="85.50" y1="607.00" x2="85.50" y2="605.00" stroke="#aaaaaa" stroke-width="1.0"/>
<line x1="125.50" y1="607.00" x2="125.50" y2="605.00" stroke="#aaaaaa" stroke-width="1.0"/>
<line x1="165.50" y1="607.00" x2="165.50" y2="605.00" stroke="#aaaaaa" stroke-width="1.0"/>
<line x1="205.50" y1="607.00" x2="205.50" y2="605.00" stroke="#aaaaaa" stroke-width="1.0"/>
<line x1="246.50" y1="607.00" x2="246.50" y2="605.00" stroke="#aaaaaa" stroke-width="1.0"/>
<line x1="286.50" y1="607.00" x2="286.50" y2="605.00" stroke="#aaaaaa" stroke-width="1.0"/>
<line x1="326.50" y1="607.00" x2="326.50" y2="605.00" stroke="#aaaaaa" stroke-width="1.0"/>
<line x1="366.50" y1="607.00" x2="366.50" y2="605.00" stroke="#aaaaaa" stroke-width="1.0"/>
<line x1="406.50" y1="607.00" x2="406.50" y2="605.00" stroke="#aaaaaa" stroke-width="1.0"/>
<line x1="446.50" y1="607.00" x2="446.50" y2="605.00" stroke="#aaaaaa" stroke-width="1.0"/>
<line x1="486.50" y1="607.00" x2="486.50" y2="605.00" stroke="#aaaaaa" stroke-width="1.0"/>
<line x1="526.50" y1="607.00" x2="526.50" y2="605.00" stroke="#aaaaaa" stroke-width="1.0"/>
<line x1="566.10" y1="607.00" x2="566.10" y2="605.00" stroke="#aaaaaa" stroke-width="1.0"/>
<text x="82.90" y="512.80" font-size="10" text-anchor="end" letter-spacing="0.3">1.0</text>
<text x="82.90" y="562.30" font-size="10" text-anchor="end" letter-spacing="0.3">0.5</text>
<text x="82.90" y="611.80" font-size="10" text-anchor="end" letter-spacing="0.3">0.0</text>
<text x="139.70" y="618.80" font-size="10" text-anchor="middle" letter-spacing="-0.25">1000</text>
<text x="196.69" y="618.80" font-size="10" text-anchor="middle" letter-spacing="-0.25">2000</text>
<text x="253.67" y="618.80" font-size="10" text-anchor="middle" letter-spacing="-0.25">3000</text>
<text x="310.66" y="618.80" font-size="10" text-anchor="middle" letter-spacing="-0.25">4000</text>
<text x="367.64" y="618.80" font-size="10" text-anchor="middle" letter-spacing="-0.25">5000</text>
<text x="424.63" y="618.80" font-size="10" text-anchor="middle" letter-spacing="-0.25">6000</text>
<text x="481.61" y="618.80" font-size="10" text-anchor="middle" letter-spacing="-0.25">7000</text>
<text x="538.60" y="618.80" font-size="10" text-anchor="middle" letter-spacing="-0.25">8000</text>
<rect x="94" y="671" width="1" height="4" fill="#a6a6a6"/>
<rect x="98" y="671" width="1" height="4" fill="#a6a6a6"/>
<rect x="103" y="671" width="1" height="4" fill="#a6a6a6"/>
<rect x="106" y="671" width="1" height="4" fill="#a6a6a6"/>
<rect x="109" y="671" width="1" height="4" fill="#a6a6a6"/>
<rect x="111" y="671" width="1" height="4" fill="#a6a6a6"/>
<rect x="113" y="671" width="1" height="4" fill="#a6a6a6"/>
<rect x="115" y="671" width="1" height="4" fill="#a6a6a6"/>
<rect x="117" y="671" width="1" height="4" fill="#a6a6a6"/>
<rect x="119" y="671" width="1" height="4" fill="#a6a6a6"/>
<rect x="124" y="671" width="1" height="4" fill="#a6a6a6"/>
<rect x="127" y="671" width="1" height="4" fill="#a6a6a6"/>
<rect x="129" y="671" width="1" height="4" fill="#a6a6a6"/>
<rect x="132" y="671" width="2" height="4" fill="#b3b3b3"/>
<rect x="136" y="671" width="3" height="4" fill="#b3b3b3"/>
<rect x="144" y="671" width="1" height="4" fill="#a6a6a6"/>
<rect x="146" y="671" width="1" height="4" fill="#a6a6a6"/>
<rect x="149" y="671" width="1" height="4" fill="#a6a6a6"/>
<rect x="152" y="671" width="1" height="4" fill="#a6a6a6"/>
<rect x="156" y="671" width="1" height="4" fill="#a6a6a6"/>
<rect x="162" y="671" width="1" height="4" fill="#a6a6a6"/>
<rect x="164" y="671" width="1" height="4" fill="#a6a6a6"/>
<rect x="167" y="671" width="1" height="4" fill="#a6a6a6"/>
<rect x="171" y="671" width="1" height="4" fill="#a6a6a6"/>
<rect x="175" y="671" width="1" height="4" fill="#a6a6a6"/>
<rect x="182" y="671" width="1" height="4" fill="#a6a6a6"/>
<rect x="187" y="671" width="1" height="4" fill="#a6a6a6"/>
<rect x="192" y="671" width="2" height="4" fill="#b3b3b3"/>
<rect x="201" y="671" width="1" height="4" fill="#a6a6a6"/>
<rect x="206" y="671" width="1" height="4" fill="#a6a6a6"/>
<rect x="211" y="671" width="1" height="4" fill="#a6a6a6"/>
<rect x="216" y="671" width="1" height="4" fill="#a6a6a6"/>
<rect x="221" y="671" width="1" height="4" fill="#a6a6a6"/>
<rect x="222" y="671" width="1" height="4" fill="#a6a6a6"/>
<rect x="224" y="671" width="1" height="4" fill="#a6a6a6"/>
<rect x="226" y="671" width="1" height="4" fill="#a6a6a6"/>
<rect x="230" y="671" width="1" height="4" fill="#a6a6a6"/>
<rect x="235" y="671" width="1" height="4" fill="#a6a6a6"/>
<rect x="244" y="671" width="1" height="4" fill="#a6a6a6"/>
<rect x="248" y="671" width="1" height="4" fill="#a6a6a6"/>
<rect x="250" y="671" width="1" height="4" fill="#a6a6a6"/>
<rect x="252" y="671" width="1" height="4" fill="#a6a6a6"/>
<rect x="260" y="671" width="1" height="4" fill="#a6a6a6"/>
<rect x="262" y="671" width="1" height="4" fill="#a6a6a6"/>
<rect x="265" y="671" width="1" height="4" fill="#a6a6a6"/>
<rect x="267" y="671" width="1" height="4" fill="#a6a6a6"/>
<rect x="271" y="671" width="1" height="4" fill="#a6a6a6"/>
<rect x="277" y="671" width="1" height="4" fill="#a6a6a6"/>
<rect x="286" y="671" width="1" height="4" fill="#a6a6a6"/>
<rect x="298" y="671" width="1" height="4" fill="#a6a6a6"/>
<polyline points="85.00,701.70 85.40,697.74 86.00,678.93 86.50,688.83 87.00,651.71 87.80,657.15 88.40,669.03 89.20,642.30 89.70,658.14 90.50,665.07 91.10,675.96 91.50,679.92 92.00,672.00 92.50,665.07 92.90,721.50 152.30,721.50 153.40,665.07 154.20,693.78 154.60,721.50 166.90,721.50 168.50,658.14 169.30,677.94 169.90,721.50 239.10,721.50 239.80,681.90 240.50,712.59 241.20,678.93 242.30,645.27 243.20,627.45 243.60,637.35 244.20,658.14 244.60,681.90 245.30,681.90 245.70,721.50 255.20,721.50 255.50,686.85 256.20,704.67 257.20,689.82 257.60,721.50 273.30,721.50 274.60,712.59 275.60,721.50 280.10,721.50 281.10,658.14 281.80,691.80 282.50,657.15 283.10,647.25 283.60,691.80 284.50,713.58 285.50,721.50 292.00,721.50 293.40,704.67 295.00,721.50 566.60,721.50" fill="none" stroke="#333333" stroke-width="0.7" stroke-linejoin="round"/>
<line x1="84.50" y1="622.00" x2="84.50" y2="722.00" stroke="#c4c4c4" stroke-width="1.0"/>
<line x1="85.50" y1="622.00" x2="85.50" y2="722.00" stroke="#777777" stroke-width="1.0"/>
<line x1="85.00" y1="721.50" x2="566.60" y2="721.50" stroke="#424242" stroke-width="1.0"/>
<line x1="86.00" y1="622.50" x2="88.00" y2="622.50" stroke="#8a8a8a" stroke-width="1.0"/>
<line x1="86.00" y1="671.50" x2="88.00" y2="671.50" stroke="#8a8a8a" stroke-width="1.0"/>
<line x1="139.50" y1="721.00" x2="139.50" y2="713.00" stroke="#aaaaaa" stroke-width="1.0"/>
<line x1="196.50" y1="721.00" x2="196.50" y2="713.00" stroke="#aaaaaa" stroke-width="1.0"/>
<line x1="253.50" y1="721.00" x2="253.50" y2="713.00" stroke="#aaaaaa" stroke-width="1.0"/>
<line x1="310.50" y1="721.00" x2="310.50" y2="713.00" stroke="#aaaaaa" stroke-width="1.0"/>
<line x1="367.50" y1="721.00" x2="367.50" y2="713.00" stroke="#aaaaaa" stroke-width="1.0"/>
<line x1="424.50" y1="721.00" x2="424.50" y2="713.00" stroke="#aaaaaa" stroke-width="1.0"/>
<line x1="481.50" y1="721.00" x2="481.50" y2="713.00" stroke="#aaaaaa" stroke-width="1.0"/>
<line x1="538.50" y1="721.00" x2="538.50" y2="713.00" stroke="#aaaaaa" stroke-width="1.0"/>
<line x1="85.50" y1="721.00" x2="85.50" y2="719.00" stroke="#aaaaaa" stroke-width="1.0"/>
<line x1="125.50" y1="721.00" x2="125.50" y2="719.00" stroke="#aaaaaa" stroke-width="1.0"/>
<line x1="165.50" y1="721.00" x2="165.50" y2="719.00" stroke="#aaaaaa" stroke-width="1.0"/>
<line x1="205.50" y1="721.00" x2="205.50" y2="719.00" stroke="#aaaaaa" stroke-width="1.0"/>
<line x1="246.50" y1="721.00" x2="246.50" y2="719.00" stroke="#aaaaaa" stroke-width="1.0"/>
<line x1="286.50" y1="721.00" x2="286.50" y2="719.00" stroke="#aaaaaa" stroke-width="1.0"/>
<line x1="326.50" y1="721.00" x2="326.50" y2="719.00" stroke="#aaaaaa" stroke-width="1.0"/>
<line x1="366.50" y1="721.00" x2="366.50" y2="719.00" stroke="#aaaaaa" stroke-width="1.0"/>
<line x1="406.50" y1="721.00" x2="406.50" y2="719.00" stroke="#aaaaaa" stroke-width="1.0"/>
<line x1="446.50" y1="721.00" x2="446.50" y2="719.00" stroke="#aaaaaa" stroke-width="1.0"/>
<line x1="486.50" y1="721.00" x2="486.50" y2="719.00" stroke="#aaaaaa" stroke-width="1.0"/>
<line x1="526.50" y1="721.00" x2="526.50" y2="719.00" stroke="#aaaaaa" stroke-width="1.0"/>
<line x1="566.10" y1="721.00" x2="566.10" y2="719.00" stroke="#aaaaaa" stroke-width="1.0"/>
<text x="82.90" y="625.80" font-size="10" text-anchor="end" letter-spacing="0.3">1.0</text>
<text x="82.90" y="675.30" font-size="10" text-anchor="end" letter-spacing="0.3">0.5</text>
<text x="82.90" y="724.80" font-size="10" text-anchor="end" letter-spacing="0.3">0.0</text>
<text x="139.70" y="732.80" font-size="10" text-anchor="middle" letter-spacing="-0.25">1000</text>
<text x="196.69" y="732.80" font-size="10" text-anchor="middle" letter-spacing="-0.25">2000</text>
<text x="253.67" y="732.80" font-size="10" text-anchor="middle" letter-spacing="-0.25">3000</text>
<text x="310.66" y="732.80" font-size="10" text-anchor="middle" letter-spacing="-0.25">4000</text>
<text x="367.64" y="732.80" font-size="10" text-anchor="middle" letter-spacing="-0.25">5000</text>
<text x="424.63" y="732.80" font-size="10" text-anchor="middle" letter-spacing="-0.25">6000</text>
<text x="481.61" y="732.80" font-size="10" text-anchor="middle" letter-spacing="-0.25">7000</text>
<text x="538.60" y="732.80" font-size="10" text-anchor="middle" letter-spacing="-0.25">8000</text>
<path d="M64.6,47.4 C60.5,48.4 58.5,51.4 58.5,53.4 L58.5,210.79999999999998 C58.5,214.79999999999998 54.2,216.79999999999998 51.2,217.79999999999998 C54.2,218.79999999999998 58.5,220.79999999999998 58.5,224.79999999999998 L58.5,382.2 C58.5,384.2 60.5,387.2 64.6,388.2" fill="none" stroke="#6a6a6a" stroke-width="0.8"/>
<path d="M64.6,388.2 C60.5,389.2 58.5,392.2 58.5,394.2 L58.5,551.4 C58.5,555.4 54.2,557.4 51.2,558.4 C54.2,559.4 58.5,561.4 58.5,565.4 L58.5,722.6 C58.5,724.6 60.5,727.6 64.6,728.6" fill="none" stroke="#6a6a6a" stroke-width="0.8"/>
<text x="221.60" y="35.00" font-size="9.5" text-anchor="start" textLength="345" lengthAdjust="spacing" xml:space="preserve">/tmp/mfj17080/only/raw_result_dir/mfj17080, Order 5, Window 96, Step  12, 2/2</text>
<text x="284.20" y="748.90" font-size="9.4" text-anchor="start" textLength="84.3" lengthAdjust="spacing">Nucleotide Position</text>
<text transform="translate(48.1,217.9) rotate(-90)" font-size="9.6" text-anchor="middle" textLength="73.6" lengthAdjust="spacing">Direct Sequence</text>
<text transform="translate(48.1,558.4) rotate(-90)" font-size="9.6" text-anchor="middle" textLength="117.6" lengthAdjust="spacing">Complementary Sequence</text></svg>
</body></html>
